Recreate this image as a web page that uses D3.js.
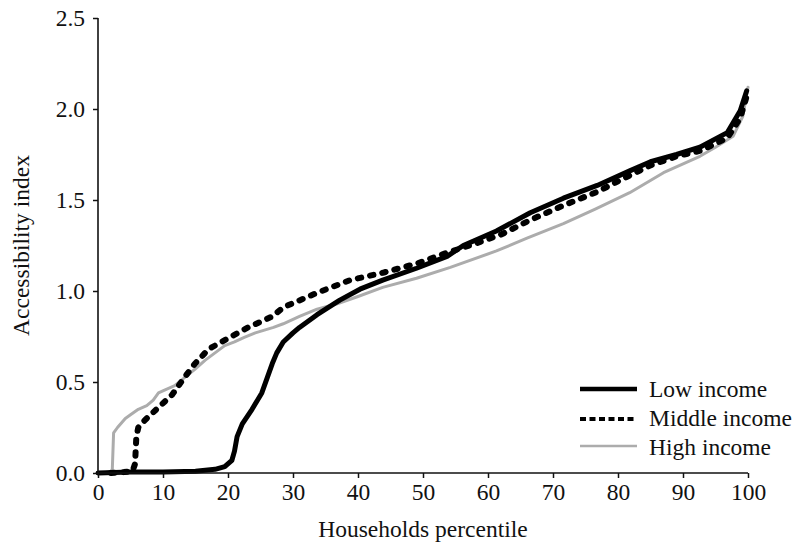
<!DOCTYPE html>
<html>
<head>
<meta charset="utf-8">
<script src="https://cdn.jsdelivr.net/npm/d3@7"></script>
<style>
  html, body { margin: 0; padding: 0; background: #fff; }
  svg { display: block; }
  text { font-family: "Liberation Serif", "Times New Roman", serif; fill: #111; }
</style>
</head>
<body>
<div id="chart"></div>
<script>
// ---- data ----
const xTicks = [0, 10, 20, 30, 40, 50, 60, 70, 80, 90, 100];
const yTicks = [0.0, 0.5, 1.0, 1.5, 2.0, 2.5];
const seriesNames = ["Low income", "Middle income", "High income"];

const lowPct = [0, 5, 10, 15, 18, 19.5, 20.6, 21, 21.4, 22.2, 23.7, 25.2, 26, 26.8, 27.5, 28.5, 30, 31, 33.7, 37.2, 40.3, 43.8, 49, 53.7, 56.2, 61.3, 66.5, 71.6, 76.8, 81.8, 85, 89, 92.6, 96.8, 98.8, 99.8];
const lowVal = [0, 0.005, 0.005, 0.01, 0.02, 0.035, 0.07, 0.12, 0.2, 0.27, 0.35, 0.44, 0.52, 0.60, 0.66, 0.72, 0.77, 0.80, 0.87, 0.95, 1.01, 1.06, 1.125, 1.19, 1.25, 1.33, 1.43, 1.51, 1.58, 1.66, 1.71, 1.75, 1.79, 1.87, 1.99, 2.10];

const midPct = [2, 4, 5.3, 5.7, 5.9, 6.2, 7.2, 9.3, 11.4, 13.4, 14.9, 17, 20, 23.1, 26.8, 28.5, 33.7, 38.8, 43.8, 49, 53.7, 58, 62, 66.5, 71.6, 76.8, 81.8, 85, 89, 92.6, 96.8, 98.8, 99.8];
const midVal = [0, 0.005, 0.01, 0.05, 0.2, 0.25, 0.29, 0.36, 0.43, 0.53, 0.60, 0.68, 0.74, 0.80, 0.86, 0.91, 0.99, 1.06, 1.10, 1.15, 1.21, 1.26, 1.31, 1.39, 1.47, 1.545, 1.635, 1.69, 1.74, 1.77, 1.84, 1.95, 2.07];

const highPct = [0, 1, 2, 2.2, 2.4, 3, 4.2, 5, 6.2, 7.5, 8.5, 9.3, 10.5, 11.8, 13.5, 14.9, 16.5, 18, 19.5, 21, 22.5, 24.2, 27, 28.5, 31, 33.7, 36.8, 40, 43.8, 49, 54.2, 61.3, 66, 71.6, 76.5, 81.8, 87, 92.6, 95, 97.7, 99.2, 100];
const highVal = [0, 0, 0.01, 0.02, 0.22, 0.25, 0.30, 0.32, 0.35, 0.37, 0.40, 0.44, 0.46, 0.48, 0.53, 0.57, 0.62, 0.66, 0.70, 0.72, 0.745, 0.77, 0.80, 0.82, 0.86, 0.90, 0.93, 0.97, 1.02, 1.07, 1.13, 1.22, 1.29, 1.37, 1.45, 1.54, 1.65, 1.74, 1.79, 1.85, 1.96, 2.12];

// ---- layout ----
const W = 793, H = 543;
const FS = 23.5;
const svg = d3.select("#chart").append("svg").attr("width", W).attr("height", H);

const x = d3.scaleLinear().domain([0, 100]).range([98, 748]);
const y = d3.scaleLinear().domain([0, 2.5]).range([473, 18]);

const zip = (a, b) => a.map((v, i) => [v, b[i]]);
const line = d3.line().x(d => x(d[0])).y(d => y(d[1])).curve(d3.curveLinear);

const styles = [
  { name: seriesNames[0], data: zip(lowPct, lowVal), color: "#000", width: 5, dash: null, cap: "round" },
  { name: seriesNames[1], data: zip(midPct, midVal), color: "#000", width: 6, dash: "3.5,9", cap: "round" },
  { name: seriesNames[2], data: zip(highPct, highVal), color: "#acacac", width: 3, dash: null, cap: "round" }
];

// draw order: high, middle, low
[styles[2], styles[1], styles[0]].forEach(s => {
  svg.append("path")
    .datum(s.data)
    .attr("d", line)
    .attr("fill", "none")
    .attr("stroke", s.color)
    .attr("stroke-width", s.width)
    .attr("stroke-linecap", s.cap)
    .attr("stroke-linejoin", "round")
    .attr("stroke-dasharray", s.dash);
});

// ---- axes ----
const xAxis = d3.axisBottom(x).tickValues(xTicks).tickSize(5).tickPadding(5).tickFormat(d3.format("d"));
const yAxis = d3.axisLeft(y).tickValues(yTicks).tickSize(5).tickPadding(8).tickFormat(d3.format(".1f"));

const gx = svg.append("g").attr("transform", `translate(0,${y(0)})`).call(xAxis);
const gy = svg.append("g").attr("transform", `translate(${x(0)},0)`).call(yAxis);

[gx, gy].forEach(g => {
  g.select(".domain").attr("stroke", "#111").attr("stroke-width", 1.6);
  g.selectAll(".tick line").attr("stroke", "#111").attr("stroke-width", 1.5);
  g.selectAll(".tick text").attr("font-family", "Liberation Serif, serif").attr("font-size", FS).attr("fill", "#111");
});
gx.select(".domain").attr("d", `M${x(0)},0H${x(100)}`);
gy.select(".domain").attr("d", `M0,${y(2.5)}V${y(0)}`);

// axis titles
svg.append("text")
  .attr("x", (x(0) + x(100)) / 2).attr("y", 537)
  .attr("text-anchor", "middle").attr("font-size", FS)
  .text("Households percentile");

svg.append("text")
  .attr("transform", `translate(29,${(y(0) + y(2.5)) / 2}) rotate(-90)`)
  .attr("text-anchor", "middle").attr("font-size", FS)
  .text("Accessibility index");

// ---- legend ----
const legY = [389, 419, 446];
const legTextY = [397, 426, 455];
const legendStyles = [
  { width: 4.5, dash: null, color: "#000" },
  { width: 4, dash: "6,3.5", color: "#000" },
  { width: 2.5, dash: null, color: "#acacac" }
];
const lg = svg.append("g");
styles.forEach((s, i) => {
  lg.append("line")
    .attr("x1", 580).attr("x2", 637)
    .attr("y1", legY[i]).attr("y2", legY[i])
    .attr("stroke", legendStyles[i].color)
    .attr("stroke-width", legendStyles[i].width)
    .attr("stroke-dasharray", legendStyles[i].dash);
  lg.append("text")
    .attr("x", 649).attr("y", legTextY[i])
    .attr("font-size", FS)
    .text(s.name);
});
</script>
</body>
</html>
